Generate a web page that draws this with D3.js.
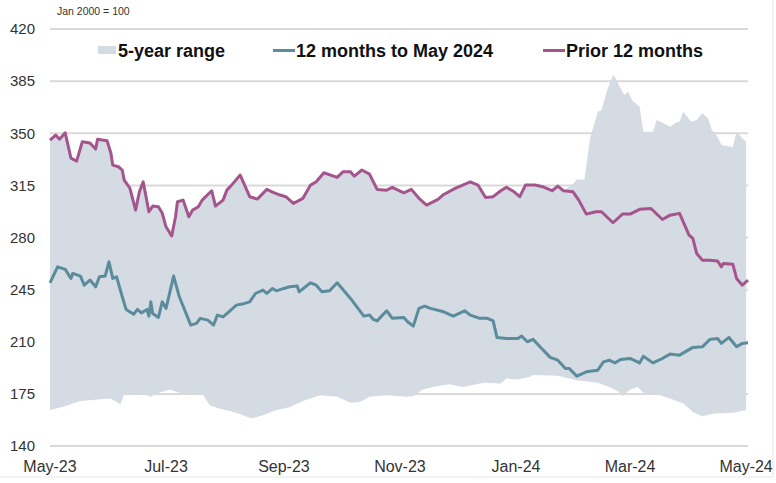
<!DOCTYPE html>
<html>
<head>
<meta charset="utf-8">
<script src="https://cdn.jsdelivr.net/npm/d3@7"></script>
<style>
body { margin: 0; background: #fff; }
text { font-family: "Liberation Sans", Arial, sans-serif; }
</style>
</head>
<body>
<svg id="chart" width="776" height="483"></svg>
<script>
// Index, Jan 2000 = 100. Days are counted from 1 May 2023.
var startDate = new Date(2023, 4, 1);

var priorDays = [0, 3, 5, 8, 11, 14, 17, 21, 24, 25, 30, 32, 33, 36, 38, 39, 42, 45, 47, 49,
	52, 54, 57, 59, 61, 64, 66, 67, 70, 73, 75, 78, 80, 85, 87, 91, 93, 95, 100, 105,
	109, 114, 117, 121, 124, 128, 133, 137, 140, 144, 151, 154, 158, 160, 164, 168, 172, 177, 180, 186,
	190, 194, 198, 204, 207, 213, 217, 221, 225, 229, 233, 237, 240, 244, 247, 250, 255, 259, 264, 267,
	270, 275, 278, 282, 287, 290, 296, 301, 305, 310, 316, 322, 326, 331, 336, 338, 340, 343, 347, 351,
	353, 354, 359, 361, 364, 367];
var priorValues = [345.4, 348.8, 346, 350.3, 333.3, 331.3, 344.3, 343.4, 339.4, 346, 345, 336.7, 328.6, 327.5, 325.3, 318.6, 313.2, 298.4, 310.7, 317.4,
	297.3, 301.1, 300.6, 296.4, 287.2, 281, 293.9, 304, 305.1, 293.9, 298.4, 300.6, 305.1, 311.4, 301.1, 305.1, 311.8, 314.5, 321.9, 307.4,
	305.8, 312.3, 310.5, 308.5, 307.4, 302.9, 306.3, 315.2, 317.4, 323.5, 320.4, 324.1, 324.1, 321.2, 325.3, 322.6, 312.3, 311.8, 313.7, 310,
	312.3, 306.3, 301.8, 305.6, 308.9, 313, 315.2, 317.4, 315.2, 306.9, 307.4, 311.4, 313.7, 310.7, 307.4, 315.2, 315.2, 314.1, 311.4, 314.5,
	311.4, 310.7, 305.1, 295.7, 297.3, 297.3, 289.9, 295.7, 295.7, 298.9, 299.5, 292.1, 295, 296.2, 281.6, 279.4, 269.3, 264.8, 264.8, 264.2,
	260.3, 262.6, 262.1, 252.5, 248, 251.4];

var recentDays = [0, 4, 8, 11, 12, 16, 18, 21, 24, 26, 29, 31, 33, 35, 38, 40, 44, 46, 48, 51,
	52, 53, 54, 57, 59, 61, 65, 68, 74, 77, 79, 83, 86, 88, 91, 94, 98, 101, 105, 108,
	112, 114, 117, 119, 123, 126, 130, 131, 137, 140, 143, 147, 151, 154, 158, 165, 168, 170, 172, 177,
	180, 186, 188, 191, 194, 197, 200, 207, 212, 218, 221, 226, 230, 233, 235, 240, 246, 248, 251, 254,
	258, 263, 267, 271, 273, 277, 282, 288, 291, 294, 297, 300, 305, 310, 312, 317, 321, 326, 331, 338,
	343, 347, 351, 353, 357, 361, 364, 367];
var recentValues = [249.6, 260.3, 258.6, 252.5, 255.9, 254.1, 248, 251.4, 246.9, 253.6, 254.1, 263.7, 252.5, 253.6, 240.2, 231.7, 228.5, 231.7, 229.4, 231.7,
	227.2, 236.8, 229, 226.3, 236.8, 232.4, 254.1, 240.2, 221.2, 222.3, 225.7, 224.5, 221.2, 227.9, 226.7, 230.1, 234.6, 235.3, 236.8, 242.4,
	244.7, 242.4, 245.8, 244.2, 245.8, 246.9, 247.4, 243.5, 249.6, 248, 243.5, 244.2, 249.6, 245.1, 239.1, 227.2, 227.9, 225, 224, 230.8,
	225.7, 226.3, 223.4, 220.5, 232.4, 233.9, 232.4, 230.1, 227.2, 230.8, 227.9, 225.7, 225.7, 224, 212.9, 212.2, 212.2, 213.8, 210, 211.6,
	206.2, 199.5, 197.6, 192, 192, 186.9, 189.8, 190.9, 196.5, 197.6, 195.8, 198.1, 198.8, 195.8, 200.3, 195.8, 198.1, 201.7, 201, 206.2,
	206.6, 211.6, 212.2, 208.9, 212.9, 206.6, 208.9, 209.3];

// 5-year range: top follows the prior 12 months until late Jan-24, then these
var rangeHighDays = [275, 277, 281, 284, 288, 290, 293, 296, 297, 300, 302, 304, 306, 310, 312, 317, 319, 322, 326, 329,
	331, 333, 337, 340, 343, 346, 348, 351, 353, 358, 359, 361, 364, 366];
var rangeHighValues = [316, 319, 319, 346.8, 364.4, 365.6, 379, 389.1, 388, 380.2, 375.7, 377.9, 372.3, 367.8, 351, 351, 358.9, 357.1, 354.4, 357.1,
	357.7, 364.4, 357.7, 358.9, 363.4, 360, 352.2, 347.7, 342.1, 341, 340.5, 351, 346.6, 344.3];

var rangeLowDays = [0, 7, 16, 25, 32, 37, 39, 47, 53, 56, 63, 68, 80, 84, 89, 98, 106, 112, 119, 126,
	133, 142, 151, 158, 163, 168, 177, 188, 191, 196, 203, 210, 217, 228, 237, 240, 246, 252, 254, 267,
	277, 288, 294, 299, 301, 305, 309, 312, 319, 326, 333, 338, 343, 349, 359, 366];
var rangeLowValues = [164.1, 166.3, 170.3, 171.2, 171.9, 168.1, 174.8, 175.7, 173, 175.3, 178, 175.7, 175.3, 167.4, 165.2, 162.3, 158.5, 160.7, 164.1, 166,
	170.3, 174.1, 173, 169, 169.6, 173, 174.1, 173, 173.4, 178, 180.2, 181.5, 179.7, 182.4, 182, 185.3, 184.7, 186.4, 187.6, 187.1,
	184.2, 182.4, 179.7, 176.4, 173.4, 178, 179.7, 175.7, 174.8, 171.9, 168.5, 162.9, 160, 161.8, 162.3, 164.1];

var yTicks = [140, 175, 210, 245, 280, 315, 350, 385, 420];
var xTickDates = ["2023-05-01", "2023-07-01", "2023-09-01", "2023-11-01", "2024-01-01", "2024-03-01", "2024-05-01"];
var xTickLabels = ["May-23", "Jul-23", "Sep-23", "Nov-23", "Jan-24", "Mar-24", "May-24"];

var colorRange = "#d5dbe3";
var colorRecent = "#5b8c9c";
var colorPrior = "#a4558e";
var colorGrid = "#d9d9d9";

var svg = d3.select("#chart");
var plotLeft = 50, plotRight = 748, plotTop = 29, plotBottom = 446;

var x = d3.scaleTime()
	.domain([startDate, d3.timeDay.offset(startDate, 367)])
	.range([plotLeft, plotRight]);
var y = d3.scaleLinear()
	.domain([140, 420])
	.range([plotBottom, plotTop]);

function toPoints(days, values) {
	return days.map(function(d, i) {
		return [d3.timeDay.offset(startDate, d), values[i]];
	});
}

var priorPts = toPoints(priorDays, priorValues);
var recentPts = toPoints(recentDays, recentValues);
var highPts = priorPts.filter(function(p, i) { return priorDays[i] < rangeHighDays[0]; })
	.concat(toPoints(rangeHighDays, rangeHighValues));
var lowPts = toPoints(rangeLowDays, rangeLowValues);

var line = d3.line()
	.x(function(d) { return x(d[0]); })
	.y(function(d) { return y(d[1]); });

// gridlines sit behind the shaded range
svg.append("g").selectAll("line")
	.data(yTicks)
	.enter()
	.append("line")
	.attr("x1", plotLeft)
	.attr("x2", plotRight)
	.attr("y1", function(d) { return y(d); })
	.attr("y2", function(d) { return y(d); })
	.attr("stroke", colorGrid)
	.attr("stroke-width", 2);

// range polygon: top edge forward, bottom edge back
svg.append("path")
	.attr("d", line(highPts.concat(lowPts.slice().reverse())) + "Z")
	.attr("fill", colorRange);

svg.append("path")
	.attr("d", line(priorPts))
	.attr("fill", "none")
	.attr("stroke", colorPrior)
	.attr("stroke-width", 3)
	.attr("stroke-linejoin", "round");

svg.append("path")
	.attr("d", line(recentPts))
	.attr("fill", "none")
	.attr("stroke", colorRecent)
	.attr("stroke-width", 3)
	.attr("stroke-linejoin", "round");

// axis labels
svg.append("g").selectAll("text")
	.data(yTicks)
	.enter()
	.append("text")
	.attr("x", 35)
	.attr("y", function(d) { return y(d); })
	.attr("dy", "0.35em")
	.attr("text-anchor", "end")
	.attr("fill", "#333")
	.style("font-size", "15px")
	.text(function(d) { return d; });

var parseDate = d3.timeParse("%Y-%m-%d");
svg.append("g").selectAll("text")
	.data(xTickDates)
	.enter()
	.append("text")
	.attr("x", function(d) { return x(parseDate(d)); })
	.attr("y", 472)
	.attr("text-anchor", "middle")
	.attr("fill", "#333")
	.style("font-size", "16px")
	.text(function(d, i) { return xTickLabels[i]; });

svg.append("text")
	.attr("x", 57)
	.attr("y", 15)
	.attr("fill", "#333")
	.style("font-size", "10.5px")
	.text("Jan 2000 = 100");

// legend
var legendG = svg.append("g");
legendG.append("rect")
	.attr("x", 98).attr("y", 46)
	.attr("width", 18).attr("height", 8)
	.attr("fill", colorRange);
legendG.append("line")
	.attr("x1", 273).attr("x2", 295)
	.attr("y1", 50.5).attr("y2", 50.5)
	.attr("stroke", colorRecent).attr("stroke-width", 3);
legendG.append("line")
	.attr("x1", 543).attr("x2", 565)
	.attr("y1", 50.5).attr("y2", 50.5)
	.attr("stroke", colorPrior).attr("stroke-width", 3);

var legendTexts = [[118, "5-year range"], [296, "12 months to May 2024"], [566, "Prior 12 months"]];
legendG.selectAll("text")
	.data(legendTexts)
	.enter()
	.append("text")
	.attr("x", function(d) { return d[0]; })
	.attr("y", 57)
	.attr("fill", "#111")
	.style("font-size", "18px")
	.style("font-weight", "bold")
	.text(function(d) { return d[1]; });

// faint frame on the right and bottom edges
svg.append("line")
	.attr("x1", 773).attr("x2", 773).attr("y1", 0).attr("y2", 477)
	.attr("stroke", "#e6e6e6");
svg.append("line")
	.attr("x1", 0).attr("x2", 773).attr("y1", 477).attr("y2", 477)
	.attr("stroke", "#e6e6e6");
</script>
</body>
</html>
